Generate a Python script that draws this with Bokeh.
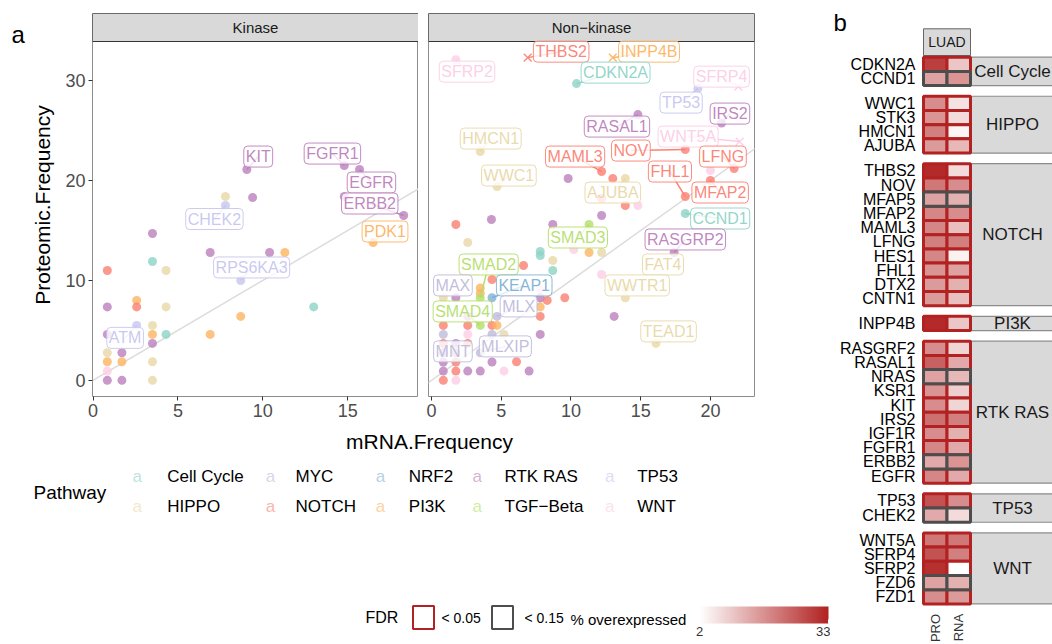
import math
from bokeh.plotting import figure
from bokeh.models import (Range1d, FixedTicker, Slope, ColorBar, LinearColorMapper,
                          ColumnDataSource)
from bokeh.layouts import row, column
from bokeh.core.properties import value, field
from bokeh.embed import file_html
from bokeh.resources import INLINE

FONT = "Liberation Sans"

# ---------------- pathways ----------------
pathways = ["Cell Cycle", "HIPPO", "MYC", "NOTCH", "NRF2", "PI3K", "RTK RAS", "TGF\u2212Beta", "TP53", "WNT"]
pathway_colors = ["#8DD3C7", "#E8D8A8", "#BEBADA", "#FB8072", "#80B1D3", "#FDB462",
                  "#BC80BD", "#B3DE69", "#C6C6F0", "#FCCDE5"]
PC = dict(zip(pathways, pathway_colors))
CC, HI, MY, NO, NR, PI, RT, TG, TP, WN = pathways

# ---------------- panel a : Kinase ----------------
kin_mrna = [0.84, 3.5, 3.5, 4.3, 6.9, 10.4, 11.3, 8.7, 16.5, 18.3,
            13.0, 8.7, 6.9, 0.84, 2.57, 2.57, 4.3, 2.57, 3.5, 3.5,
            4.3, 0.84, 3.5, 0.84, 1.7, 0.84, 1.7, 0.84, 0.84, 1.7,
            3.5, 3.5, 9.06, 9.4, 7.8, 7.8, 14.8, 15.7, 14.8]
kin_prot = [11.0, 14.7, 11.9, 11.0, 12.8, 12.8, 12.8, 10.0, 13.8, 16.5,
            7.35, 6.4, 4.6, 7.35, 8.0, 7.35, 7.35, 5.5, 5.5, 4.6,
            4.6, 4.6, 3.7, 2.76, 2.76, 1.86, 1.86, 0.93, 0.0, 0.0,
            1.86, 0.0, 21.1, 18.3, 18.4, 17.5, 21.5, 21.1, 18.4]
kin_path = [NO, RT, CC, HI, RT, RT, PI, TP, PI, RT,
            CC, PI, PI, RT, PI, NO, HI, TP, HI, PI,
            CC, RT, RT, HI, RT, PI, PI, WN, RT, RT,
            HI, HI, RT, RT, HI, TP, RT, RT, RT]

kin_lab_gene = ["KIT", "FGFR1", "EGFR", "ERBB2", "CHEK2", "PDK1", "RPS6KA3", "ATM"]
kin_lab_path = [RT, RT, RT, RT, TP, PI, TP, TP]
kin_lab_mrna = [9.06, 14.8, 15.7, 18.3, 7.8, 16.5, 8.7, 2.57]
kin_lab_prot = [21.1, 21.5, 21.1, 16.5, 17.5, 13.8, 10.0, 5.5]
kin_lab_x = [9.73, 14.1, 16.4, 16.3, 7.15, 17.2, 9.34, 1.89]
kin_lab_y = [22.4, 22.7, 19.8, 17.7, 16.15, 14.9, 11.3, 4.25]

# ---------------- panel a : Non-kinase ----------------
non_mrna = [1.75, 10.4, 19.1, 14.8, 20.8, 3.5, 18.2, 12.2, 21.7, 20.0,
            20.0, 18.2, 4.7, 9.8, 13.0, 13.9, 12.2, 13.9, 14.8, 4.3,
            12.2, 18.2, 1.75, 8.7, 11.3, 2.6, 7.8, 7.8, 10.2, 11.3,
            12.2, 17.4, 6.6, 8.7, 8.7, 12.2, 4.34, 3.5, 3.5, 3.5,
            4.34, 1.75, 0.85, 7.8, 7.8, 8.3, 9.56, 13.9, 13.9, 7.8,
            7.8, 13.1, 4.7, 2.6, 0.85, 2.6, 3.5, 4.34, 4.7, 0.85,
            2.6, 4.34, 5.2, 7.8, 0.85, 1.75, 2.6, 3.5, 16.1, 0.85,
            1.75, 0.85, 1.75, 4.34, 6.1, 0.85, 1.75, 2.6, 3.5, 5.2,
            7.0, 0.85, 1.75]
non_prot = [32.1, 29.7, 29.2, 26.6, 25.75, 22.9, 23.1, 20.9, 21.2, 21.0,
            20.0, 18.4, 19.4, 20.2, 20.2, 20.2, 18.2, 17.5, 17.5, 16.1,
            16.5, 16.7, 15.6, 15.6, 15.6, 13.8, 12.9, 12.5, 13.1, 12.8,
            12.8, 12.8, 11.5, 12.0, 11.0, 10.6, 10.1, 9.24, 8.7, 8.25,
            8.27, 8.27, 8.27, 9.1, 8.27, 8.0, 8.27, 9.24, 8.27, 7.35,
            6.4, 6.4, 6.4, 6.4, 5.5, 5.5, 5.5, 5.5, 5.5, 4.6,
            4.6, 4.6, 4.6, 4.6, 3.7, 3.7, 3.7, 2.76, 3.7, 2.76,
            2.76, 1.84, 1.84, 1.84, 1.86, 0.93, 0.93, 0.93, 0.93, 0.93,
            0.93, 0.0, 0.0]
non_path = [WN, CC, TP, RT, RT, HI, NO, NO, NO, WN,
            NO, NO, HI, RT, NO, HI, NO, NO, WN, RT,
            RT, CC, NO, RT, TG, HI, CC, CC, WN, PI,
            HI, RT, NO, HI, CC, WN, NO, PI, PI, TG,
            NR, RT, HI, WN, RT, NO, NO, HI, HI, PI,
            NO, RT, MY, RT, NO, NO, TG, NO, PI, MY,
            WN, MY, HI, RT, NO, RT, NO, MY, HI, RT,
            RT, RT, NO, RT, NO, RT, NO, RT, RT, WN,
            RT, NO, WN]

cross_gene = ["THBS2", "INPP4B", "SFRP4", "WNT5A"]
cross_mrna = [6.9, 13.0, 22.0, 22.1]
cross_prot = [32.3, 32.3, 29.4, 23.9]
cross_path = [NO, PI, WN, WN]

non_lab_gene = ["SFRP2", "THBS2", "INPP4B", "CDKN2A", "SFRP4", "TP53", "IRS2", "RASAL1", "WNT5A", "HMCN1",
                "NOV", "MAML3", "LFNG", "FHL1", "WWC1", "AJUBA", "MFAP2", "CCND1", "SMAD3", "RASGRP2",
                "FAT4", "SMAD2", "MAX", "KEAP1", "WWTR1", "SMAD4", "MLX", "TEAD1", "MNT", "MLXIP"]
non_lab_path = [WN, NO, PI, CC, WN, TP, RT, RT, WN, HI,
                NO, NO, NO, NO, HI, HI, NO, CC, TG, RT,
                HI, TG, MY, NR, HI, TG, MY, HI, MY, MY]
non_lab_mrna = [1.75, 6.9, 13.0, 10.4, 22.0, 19.1, 20.8, 14.8, 22.1, 3.5,
                18.2, 12.2, 21.7, 18.2, 4.7, 13.9, 20.0, 18.2, 11.3, 17.4,
                16.6, 3.5, 1.54, 4.34, 13.9, 3.5, 4.7, 16.1, 1.54, 3.5]
non_lab_prot = [32.1, 32.3, 32.3, 29.7, 29.4, 29.2, 25.75, 26.6, 23.9, 22.9,
                23.1, 20.9, 21.2, 18.4, 19.4, 20.2, 20.0, 16.7, 15.6, 12.8,
                11.6, 8.25, 9.5, 8.27, 9.24, 5.5, 6.4, 3.7, 2.9, 2.76]
non_lab_x = [2.55, 9.3, 15.6, 13.2, 20.8, 17.9, 21.4, 13.3, 18.4, 4.25,
             14.3, 10.3, 20.9, 17.1, 5.55, 13.0, 20.7, 20.7, 10.5, 18.2,
             16.6, 4.1, 1.54, 6.65, 14.75, 2.24, 6.25, 17.0, 1.54, 5.3]
non_lab_y = [30.9, 32.9, 32.9, 30.8, 30.4, 27.8, 26.7, 25.4, 24.4, 24.2,
             23.0, 22.4, 22.4, 20.9, 20.5, 18.8, 18.8, 16.2, 14.3, 14.1,
             11.6, 11.6, 9.5, 9.5, 9.5, 6.9, 7.4, 4.9, 2.9, 3.4]

# ---------------- panel b : heatmap ----------------
heat_gene = ["CDKN2A", "CCND1",
             "WWC1", "STK3", "HMCN1", "AJUBA",
             "THBS2", "NOV", "MFAP5", "MFAP2", "MAML3", "LFNG", "HES1", "FHL1", "DTX2", "CNTN1",
             "INPP4B",
             "RASGRF2", "RASAL1", "NRAS", "KSR1", "KIT", "IRS2", "IGF1R", "FGFR1", "ERBB2", "EGFR",
             "TP53", "CHEK2",
             "WNT5A", "SFRP4", "SFRP2", "FZD6", "FZD1"]
heat_group = [CC] * 2 + [HI] * 4 + [NO] * 10 + [PI] + [RT] * 10 + [TP] * 2 + [WN] * 5
heat_pro = [29, 15, 18, 17, 20, 16, 32, 21, 15, 19, 19, 20, 19, 17, 16, 16, 32,
            18, 24, 15, 17, 18, 22, 18, 19, 14, 19, 26, 14, 21, 26, 31, 15, 18]
heat_rna = [10, 17, 6, 7, 3.5, 12, 7, 18, 13, 18, 11, 20, 4, 15, 13, 11, 10,
            8, 14, 12, 9, 8, 20, 13, 14, 17, 14, 18, 7, 21, 20, 2, 13, 16]
heat_fdr = ["<0.05", "<0.15",
            "<0.05", "<0.05", "<0.05", "<0.05",
            "<0.05", "<0.05", "<0.15", "<0.05", "<0.05", "<0.05", "<0.05", "<0.05", "<0.05", "<0.05",
            "<0.05",
            "<0.05", "<0.05", "<0.15", "<0.05", "<0.05", "<0.05", "<0.05", "<0.05", "<0.15", "<0.05",
            "<0.05", "<0.15",
            "<0.05", "<0.05", "<0.05", "<0.15", "<0.05"]
heat_cols = ["PRO", "RNA"]
cohort = "LUAD"
fdr_levels = ["< 0.05", "< 0.15"]
fdr_colors = {"<0.05": "#B22222", "<0.15": "#4D4D4D"}
pct_low, pct_high = 2, 33

# ---------------- helpers ----------------
def expand(lo, hi, f=0.05):
    d = (hi - lo) * f
    return lo - d, hi + d

def mix(c0, c1, t):
    a = [int(c0[i:i + 2], 16) for i in (1, 3, 5)]
    b = [int(c1[i:i + 2], 16) for i in (1, 3, 5)]
    return "#%02X%02X%02X" % tuple(round(a[k] + (b[k] - a[k]) * t) for k in range(3))

heat_palette = [mix("#FFFFFF", "#B22222", i / 255) for i in range(256)]
mapper = LinearColorMapper(palette=heat_palette, low=pct_low, high=pct_high)

AXIS_GRAY = "#4D4D4D"

def canvas(w, h, **kw):
    p = figure(width=w, height=h, x_range=Range1d(0, w), y_range=Range1d(h, 0),
               x_axis_type=None, y_axis_type=None, output_backend="svg",
               toolbar_location=None, min_border=0, **kw)
    p.xgrid.visible = False
    p.ygrid.visible = False
    p.outline_line_color = None
    return p

kx0, kx1 = expand(min(kin_mrna), max(kin_mrna))
nx0, nx1 = expand(min(non_mrna + cross_mrna), max(non_mrna + cross_mrna))
all_prot = kin_prot + non_prot + cross_prot
y0, y1 = expand(min(all_prot), max(all_prot))
STRIP_PX, PANEL_PX = 28, 355
ytop = y1 + STRIP_PX * (y1 - y0) / PANEL_PX
TOP_H = 428


def scatter_panel(title, width, xr, xticks, left, right, xs, ys, paths,
                  lab_gene, lab_path, lab_px, lab_py, lab_x, lab_y,
                  cx=None, cy=None, cpath=None, show_y=True):
    p = figure(width=width, height=TOP_H, x_range=Range1d(*xr), y_range=Range1d(y0, ytop),
               output_backend="svg", toolbar_location=None,
               min_border_left=left, min_border_right=right, min_border_top=13, min_border_bottom=32)
    p.xgrid.visible = False
    p.ygrid.visible = False
    p.outline_line_color = "#8C8C8C"
    p.outline_line_width = 1

    # facet strip
    p.quad(left=[xr[0]], right=[xr[1]], bottom=[y1], top=[ytop],
           fill_color="#D9D9D9", line_color="#333333", line_width=1)
    p.text(x=[(xr[0] + xr[1]) / 2], y=[(y1 + ytop) / 2], text=[title],
           text_font=value(FONT), text_font_size="15px", text_color="#1A1A1A",
           text_align="center", text_baseline="middle")

    p.add_layout(Slope(gradient=1, y_intercept=0, line_color="#DCDCDC", line_width=1.5,
                       level="underlay"))

    src = ColumnDataSource(dict(x=xs, y=ys, c=[PC[q] for q in paths]))
    p.scatter(x="x", y="y", source=src, size=9, fill_color=field("c"), line_color=None,
              fill_alpha=0.8)
    if cx:
        csrc = ColumnDataSource(dict(x=cx, y=cy, c=[PC[q] for q in cpath]))
        p.scatter(x="x", y="y", source=csrc, marker="x", size=11, line_color=field("c"),
                  line_width=1.5, line_alpha=0.9)

    lsrc = ColumnDataSource(dict(px=lab_px, py=lab_py, lx=lab_x, ly=lab_y, t=lab_gene,
                                 c=[PC[q] for q in lab_path]))
    p.segment(x0="lx", y0="ly", x1="px", y1="py", source=lsrc, line_color=field("c"),
              line_width=1.5)
    p.text(x="lx", y="ly", text="t", source=lsrc, text_color=field("c"), text_alpha=0.95,
           text_font=value(FONT), text_font_size="16px", text_align="center",
           text_baseline="middle", background_fill_color="white", background_fill_alpha=0.8,
           border_line_color=field("c"), border_line_alpha=0.9, border_line_width=1,
           padding=2, border_radius=4)

    p.xaxis.ticker = FixedTicker(ticks=xticks)
    p.yaxis.ticker = FixedTicker(ticks=[0, 10, 20, 30])
    for ax in (p.xaxis, p.yaxis):
        ax.axis_line_color = None
        ax.major_tick_line_color = "#333333"
        ax.major_tick_out = 4
        ax.major_tick_in = 0
        ax.minor_tick_line_color = None
        ax.major_label_text_font = FONT
        ax.major_label_text_font_size = "18px"
        ax.major_label_text_color = AXIS_GRAY
        ax.major_label_standoff = 3
    if show_y:
        p.yaxis.axis_label = "Proteomic.Frequency"
        p.yaxis.axis_label_text_font = FONT
        p.yaxis.axis_label_text_font_size = "21px"
        p.yaxis.axis_label_text_font_style = "normal"
        p.yaxis.axis_label_text_color = "black"
        p.yaxis.axis_label_standoff = 8
    else:
        p.yaxis.visible = False
    return p


# panel tag "a"
figA = canvas(28, TOP_H)
figA.text(x=[11], y=[23], text=["a"], text_font=value(FONT), text_font_size="24px",
          text_color="black", text_align="left", text_baseline="middle")

figK = scatter_panel("Kinase", 390, (kx0, kx1), [0, 5, 10, 15], 63, 0,
                     kin_mrna, kin_prot, kin_path,
                     kin_lab_gene, kin_lab_path, kin_lab_mrna, kin_lab_prot, kin_lab_x, kin_lab_y)

figN = scatter_panel("Non\u2212kinase", 412, (nx0, nx1), [0, 5, 10, 15, 20], 10, 76,
                     non_mrna, non_prot, non_path,
                     non_lab_gene, non_lab_path, non_lab_mrna, non_lab_prot, non_lab_x, non_lab_y,
                     cross_mrna, cross_prot, cross_path, show_y=False)

# ---------------- legend area under panel a ----------------
LW, LH = 830, 644 - TOP_H
figL = canvas(LW, LH)

figL.text(x=[429], y=[13], text=["mRNA.Frequency"], text_font=value(FONT),
          text_font_size="21px", text_color="black", text_align="center", text_baseline="middle")
figL.text(x=[33], y=[64], text=["Pathway"], text_font=value(FONT), text_font_size="19px",
          text_color="black", text_align="left", text_baseline="middle")

key_x = [136.7, 270, 380, 476.7, 609.3]
txt_x = [166.7, 295, 408.3, 504, 636.7]
row_y = [48, 78]
leg = ColumnDataSource(dict(
    kx=[key_x[i // 2] for i in range(len(pathways))],
    tx=[txt_x[i // 2] for i in range(len(pathways))],
    y=[row_y[i % 2] for i in range(len(pathways))],
    name=pathways, c=pathway_colors, a=["a"] * len(pathways)))
figL.text(x="kx", y="y", text="a", source=leg, text_color=field("c"), text_alpha=0.6,
          text_font=value(FONT), text_font_size="17px", text_align="center", text_baseline="middle")
figL.text(x="tx", y="y", text="name", source=leg, text_color="black",
          text_font=value(FONT), text_font_size="17px", text_align="left", text_baseline="middle")

# FDR legend
fy = 189
figL.text(x=[365], y=[fy], text=["FDR"], text_font=value(FONT), text_font_size="16px",
          text_color="black", text_align="left", text_baseline="middle")
figL.rect(x=[423, 502], y=[fy, fy], width=21, height=23, fill_color=None,
          line_color=[fdr_colors["<0.05"], fdr_colors["<0.15"]], line_width=2)
figL.text(x=[441, 524], y=[fy, fy], text=fdr_levels, text_font=value(FONT),
          text_font_size="14px", text_color="black", text_align="left", text_baseline="middle")
figL.text(x=[570], y=[fy + 2], text=["% overexpressed"], text_font=value(FONT),
          text_font_size="15px", text_color="black", text_align="left", text_baseline="middle")
cb = ColorBar(color_mapper=mapper, orientation="horizontal", location=(699, 6),
              width=129, height=17, padding=0, ticker=FixedTicker(ticks=[pct_low, pct_high]),
              major_label_text_font=FONT, major_label_text_font_size="13px",
              major_label_text_color="#333333", label_standoff=3,
              major_tick_line_color="white", major_tick_in=4, major_tick_out=0,
              bar_line_color=None, background_fill_alpha=0, border_line_color=None)
figL.add_layout(cb, "center")

# ---------------- panel b ----------------
GAP = 0.75
heat_y = []
spans = {}
yy = 0.0
for i, (g, gname) in enumerate(zip(heat_group, heat_gene)):
    if i > 0 and g != heat_group[i - 1]:
        yy += GAP
    heat_y.append(yy + 0.5)
    if g not in spans:
        spans[g] = [yy, yy + 1]
    spans[g][1] = yy + 1
    yy += 1
heat_total = yy

BW, BH = 222, 644
CELL_PX, ROW_PX = 23.5, 14.2
HEAT_LEFT_PX, HEAT_TOP_PX = 93, 56.7
bx0 = -0.5 - HEAT_LEFT_PX / CELL_PX
bx1 = -0.5 + (BW - HEAT_LEFT_PX) / CELL_PX
by_top = -HEAT_TOP_PX / ROW_PX
by_bot = (BH - HEAT_TOP_PX) / ROW_PX
figB = figure(width=BW, height=BH, x_range=Range1d(bx0, bx1), y_range=Range1d(by_bot, by_top),
              x_axis_type=None, y_axis_type=None, output_backend="svg",
              toolbar_location=None, min_border=0)
figB.xgrid.visible = False
figB.ygrid.visible = False
figB.outline_line_color = None

px_x = 1 / CELL_PX
px_y = 1 / ROW_PX

# tag "b"
figB.text(x=[bx0 + 3 * px_x], y=[by_top + 22 * px_y], text=["b"], text_font=value(FONT),
          text_font_size="24px", text_color="black", text_align="left", text_baseline="middle")

# LUAD strip
figB.quad(left=[-0.5], right=[1.5], top=[-28.4 * px_y], bottom=[-1.7 * px_y], fill_color="#D9D9D9",
          line_color="#666666", line_width=1)
figB.text(x=[0.5], y=[-15 * px_y], text=[cohort], text_font=value(FONT), text_font_size="14px",
          text_color="#1A1A1A", text_align="center", text_baseline="middle")

# group strips
grp_names = list(spans.keys())
figB.quad(left=[1.5] * len(grp_names), right=[bx1 + 1] * len(grp_names),
          top=[spans[g][0] for g in grp_names], bottom=[spans[g][1] for g in grp_names],
          fill_color="#D9D9D9", line_color="#8C8C8C", line_width=1.2)
strip_lab_x = -0.5 + 89 * px_x
figB.text(x=[strip_lab_x] * len(grp_names), y=[(spans[g][0] + spans[g][1]) / 2 for g in grp_names],
          text=grp_names, text_font=value(FONT), text_font_size="17px", text_color="#1A1A1A",
          text_align="center", text_baseline="middle")

# cells (red-bordered first, gray on top)
cells = dict(x=[], y=[], v=[], edge=[])
for fdr_pass in ("<0.05", "<0.15"):
    for i in range(len(heat_gene)):
        if heat_fdr[i] != fdr_pass:
            continue
        for ci, vals in enumerate((heat_pro, heat_rna)):
            cells["x"].append(ci)
            cells["y"].append(heat_y[i])
            cells["v"].append(vals[i])
            cells["edge"].append(fdr_colors[fdr_pass])
figB.rect(x="x", y="y", width=1, height=1, source=ColumnDataSource(cells),
          fill_color={"field": "v", "transform": mapper}, line_color=field("edge"), line_width=3)

# row labels (genes) and column labels
figB.text(x=[-0.5 - 8 * px_x] * len(heat_gene), y=heat_y, text=heat_gene, text_font=value(FONT),
          text_font_size="16px", text_color="black", text_align="right", text_baseline="middle")
figB.text(x=[0, 1], y=[heat_total + 10 * px_y] * 2, text=heat_cols, angle=math.pi / 2,
          text_font=value(FONT), text_font_size="13px", text_color="#333333",
          text_align="right", text_baseline="middle")

layout = row(column(row(figA, figK, figN), figL), figB)
open("out.html", "w").write(file_html(layout, INLINE))
